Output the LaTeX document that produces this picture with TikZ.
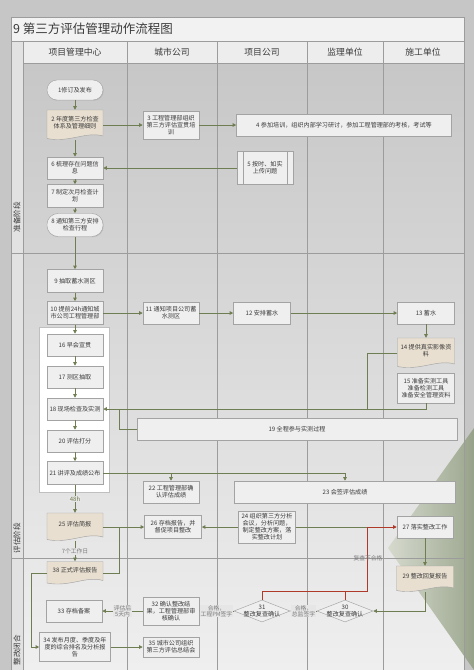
\documentclass[tikz,border=0pt]{standalone}
\usepackage{fontspec}
\setmainfont{Noto Sans CJK SC}
\usetikzlibrary{arrows.meta,shapes.geometric,shadows,calc}
\definecolor{outerbg}{HTML}{C6C6C6}
\definecolor{titlec}{HTML}{F2F2F2}
\definecolor{headc}{HTML}{EDEDED}
\definecolor{phasec}{HTML}{E2E2E2}
\definecolor{bodytop}{HTML}{C7C7C7}
\definecolor{bodymid}{HTML}{DDDDDD}
\definecolor{bodybot}{HTML}{EFEFEF}
\definecolor{gridc}{HTML}{9C9C9C}
\definecolor{boxc}{HTML}{EFEFEF}
\definecolor{docc}{HTML}{E8DFD0}
\definecolor{bordc}{HTML}{A3A3A3}
\definecolor{txtc}{HTML}{3A3A3A}
\definecolor{lnk}{HTML}{6F7D52}
\definecolor{redl}{HTML}{B03A2A}
\definecolor{greenl}{HTML}{D3D8CA}
\definecolor{greend}{HTML}{909D80}
\definecolor{lblbg}{HTML}{E6E6E6}
\definecolor{lblc}{HTML}{7A7A7A}

\tikzset{
  box/.style={draw=bordc, fill=boxc, line width=0.45pt, minimum width=56pt, minimum height=22pt,
    inner sep=0.5pt, align=center, text=txtc, font=\fontsize{6.1}{7}\selectfont,
    drop shadow={opacity=0.25, shadow xshift=0.7pt, shadow yshift=-0.7pt}},
  term/.style={box, rounded corners=10pt},
  ghost/.style={draw=none, fill=none, inner sep=0pt},
  docfill/.style={fill=docc, draw=bordc, line width=0.45pt},
  txtn/.style={align=center, text=txtc, inner sep=0pt, font=\fontsize{6.1}{7}\selectfont},
  dia/.style={shape=diamond, draw=bordc, fill=boxc, line width=0.45pt, minimum width=56pt,
    minimum height=22pt, inner sep=0pt},
  ar/.style={draw=lnk, line width=0.75pt, -{Triangle[length=3.6pt,width=3.4pt]}},
  ln/.style={draw=lnk, line width=0.75pt},
  rar/.style={draw=redl, line width=0.85pt, -{Triangle[length=3.6pt,width=3.4pt]}},
  rln/.style={draw=redl, line width=0.85pt},
  lbl/.style={align=center, text=lblc, inner sep=0.6pt, font=\fontsize{5.8}{6.4}\selectfont},
  hdr/.style={text=txtc, font=\fontsize{8.8}{9}\selectfont},
  phase/.style={text=txtc, rotate=90, font=\fontsize{7.6}{8}\selectfont}
}

\newcommand{\docnode}[6]{%
  \node[ghost, minimum width=#4pt, minimum height=#5pt] (#1) at (#2,#3) {};
  \path[docfill] ({#2-#4/2},{#3-#5/2}) -- ({#2+#4/2},{#3-#5/2}) -- ({#2+#4/2},{#3+#5/2-4})
    .. controls ({#2+#4/2-0.3*#4},{#3+#5/2-9}) and ({#2-#4/2+0.4*#4},{#3+#5/2+3}) .. ({#2-#4/2},{#3+#5/2-1.5}) -- cycle;
  \node[txtn] (#1t) at (#2,{#3-2.5}) {#6};
}

\begin{document}
\begin{tikzpicture}[x=1pt,y=-1pt]
\useasboundingbox (0,0) rectangle (474,670);
\fill[outerbg] (0,0) rectangle (474,670);
\fill[titlec] (11,17) rectangle (464,41);
\fill[headc] (23,41) rectangle (464,63);
\fill[phasec] (11,41) rectangle (23,670);
\shade[top color=bodytop, middle color=bodymid, bottom color=bodybot] (23,63) rectangle (464,670);
\shade[left color=greenl, right color=greend, opacity=0.85] (474,428) -- (388,548) -- (474,670) -- cycle;

% grid
\draw[gridc, line width=0.5pt] (11,17) rectangle (464,672);
\draw[gridc, line width=0.5pt] (11,41) -- (464,41);
\draw[gridc, line width=0.5pt] (23,63) -- (464,63);
\foreach \xx in {23,127,217,307,383} \draw[gridc, line width=0.5pt] (\xx,41) -- (\xx,670);
\draw[gridc, line width=0.5pt] (11,253) -- (464,253);
\draw[gridc, line width=0.5pt] (11,558) -- (464,558);

% title and headers
\node[anchor=west, text=txtc, font=\fontsize{12.5}{13}\selectfont, inner sep=0pt] (title) at (13,29) {9 第三方评估管理动作流程图};
\node[hdr] (h1) at (75,52) {项目管理中心};
\node[hdr] (h2) at (172,52) {城市公司};
\node[hdr] (h3) at (262,52) {项目公司};
\node[hdr] (h4) at (345,52) {监理单位};
\node[hdr] (h5) at (423,52) {施工单位};
\node[phase] (p1) at (17,217) {准备阶段};
\node[phase] (p2) at (17,538) {评估阶段};
\node[phase] (p3) at (17,650) {整改闭合};

% container
\draw[fill=white, draw=bordc!70, line width=0.45pt] (39,327) rectangle (109,492);

% nodes
\node[term, minimum height=20pt] (n1) at (75,90) {1修订及发布};
\docnode{n2}{75}{125}{56}{30}{2 年度第三方检查\\体系及管理细则}
\node[box, minimum height=28pt] (n3) at (171,125) {3 工程管理部组织\\第三方评估宣贯培\\训};
\node[box, minimum width=215pt] (n4) at (344,125) {4 参加培训，组织内部学习研讨，参加工程管理部的考核，考试等};
\node[box, minimum height=33pt] (n5) at (265,168) {5 按时、如实\\上传问题};
\draw[bordc, line width=0.45pt] ([xshift=6pt]n5.north west) -- ([xshift=6pt]n5.south west);
\draw[bordc, line width=0.45pt] ([xshift=-6pt]n5.north east) -- ([xshift=-6pt]n5.south east);
\node[box] (n6) at (75,168) {6 梳理存在问题信\\息};
\node[box, minimum height=23pt] (n7) at (75,196) {7 制定次月检查计\\划};
\node[term, minimum height=23pt, rounded corners=11pt] (n8) at (75,225) {8 通知第三方安排\\检查行程};

\node[box, minimum height=23pt] (n9) at (75,281) {9 抽取蓄水测区};
\node[box, minimum height=23pt] (n10) at (75,313) {10 提前24h通知城\\市公司工程管理部};
\node[box] (n11) at (171,313) {11 通知项目公司蓄\\水测区};
\node[box, minimum width=57pt] (n12) at (262,313) {12 安排蓄水};
\node[box, minimum width=57pt] (n13) at (426,313) {13 蓄水};
\docnode{n14}{426}{353}{57}{30}{14 提供真实影像资\\料}
\node[box, minimum width=57pt, minimum height=30pt] (n15) at (426,388) {15 准备实测工具\\准备检测工具\\准备安全管理资料};

\node[box] (n16) at (75,345) {16 早会宣贯};
\node[box] (n17) at (75,377) {17 测区抽取};
\node[box] (n18) at (75,409) {18 现场检查及实测};
\node[box, minimum width=320pt] (n19) at (297,429) {19 全程参与实测过程};
\node[box] (n20) at (75,441) {20 评估打分};
\node[box, minimum height=23pt] (n21) at (75,473) {21 讲评及成绩公布};
\node[box] (n22) at (171,492) {22 工程管理部确\\认评估成绩};
\node[box, minimum width=221pt] (n23) at (345,492) {23 会签评估成绩};

\docnode{n25}{75}{527}{56}{28}{25 评估简报}
\node[box, minimum width=57pt, minimum height=23pt] (n26) at (173,527) {26 存档报告，并\\督促项目整改};
\node[box, minimum width=57pt, minimum height=32pt] (n24) at (267,527) {24 组织第三方分析\\会议，分析问题，\\制定整改方案，落\\实整改计划};
\node[box] (n27) at (425,527) {27 落实整改工作};
\docnode{n29}{425}{579}{57}{26}{29 整改回复报告}
\docnode{n38}{75}{573}{56}{23}{38 正式评估报告}

\node[dia] (n30) at (345,611) {};
\node[txtn] (n30t) at (n30) {30\\整改复查确认};
\node[dia] (n31) at (262,611) {};
\node[txtn] (n31t) at (n31) {31\\整改复查确认};
\node[box, minimum height=28pt] (n32) at (171,611) {32 确认整改结\\果，工程管理部审\\核确认};
\node[box] (n33) at (74,611) {33 存档备案};
\node[box, minimum width=71pt, minimum height=29pt] (n34) at (75,647) {34 发布月度、季度及年\\度的综合排名及分析报\\告};
\node[box, minimum height=20pt] (n35) at (171,647) {35 城市公司组织\\第三方评估总结会};

% junctions
\coordinate (j1) at (367,409);
\coordinate (j2) at (119,409);
\coordinate (j3) at (367,527);
\coordinate (j4) at (367,591);
\coordinate (j5) at (31,573);
\coordinate (j6) at (119,527);

% connectors
\draw[ar] (n1) -- (n2);
\draw[ar] (n2.south) -- (n6);
\draw[ar] (n6) -- (n7);
\draw[ar] (n7) -- (n8);
\draw[ar] (n8) -- (n9);
\draw[ar] (n2.east) -- (n3);
\draw[ar] (n3) -- (n4);
\draw[ar] (n5) -- (n6);
\draw[ar] (n9) -- (n10);
\draw[ar] (n10) -- (n11);
\draw[ar] (n11) -- (n12);
\draw[ar] (n12) -- (n13);
\draw[ar] (n13) -- (n14);
\draw[ar] (n10) -- (n16);
\draw[ar] (n16) -- (n17);
\draw[ar] (n17) -- (n18);
\draw[ar] (n18) -- (n20);
\draw[ar] (n20) -- (n21);
\draw[ln] (n14.west) -| (j1);
\draw[ar] (n15.south) |- (n18.east);
\draw[ln] (n19.west) -| (j2);
\draw[ar] (n21.east) -| (n22.north);
\draw[ar] (n21.east) -| (n23.north);
\draw[ar] (n21) -- (n25) node[midway, lbl, fill=lblbg, text=lnk, font=\fontsize{6}{6.4}\selectfont] (l48) {48h};
\draw[ar] (n25.east) -- (n26);
\draw[ar] (n24) -- (n26);
\draw[ln] (n24.east) -- (j3);
\draw[ln] (j6) |- (n38.east);
\draw[ar] (n25.south) -- (n38) node[midway, lbl, fill=lblbg] (l7) {7个工作日};
\draw[ar] (n38.west) -- (j5) |- (n34.west);
\draw[ar] (n27) -- (n29);
\draw[ar] (n29.south) |- (n30.east);
\draw[ar] (n30.west) -- (n31.east) node[midway, lbl, fill=lblbg] (lz) {合格，\\总监签字};
\draw[ar] (n31.west) -- (n32.east) node[midway, lbl, fill=lblbg] (lg) {合格，\\工程PM签字};
\draw[ar] (n32) -- (n33) node[midway, lbl, fill=lblbg] (lp) {评估后\\5天内};
\draw[ar] (n34) -- (n35);
\draw[rln] (n31.north) |- (j4) -- (j3);
\draw[rln] (n30.north) -- (n30.north |- j4);
\draw[rar] (j3) -- (n27.west);
\node[lbl] (lf) at (368,558) {复查不合格};
\end{tikzpicture}
\end{document}
